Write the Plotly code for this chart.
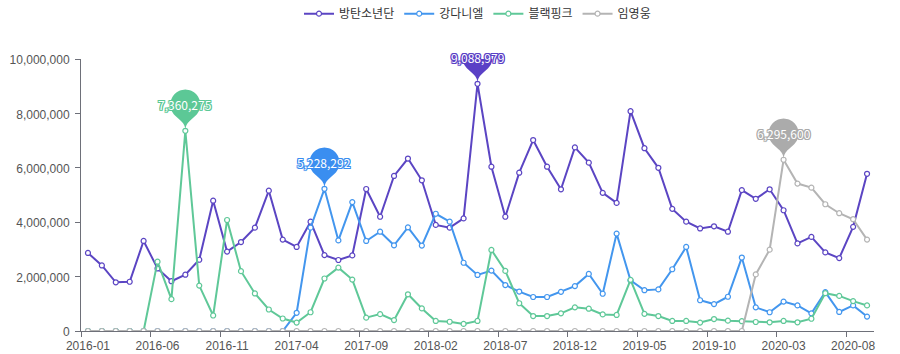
import math
import plotly.graph_objects as go

months = [f"{y}-{m:02d}" for y in range(2016, 2021) for m in range(1, 13)][:57]

series_names = ["방탄소년단", "강다니엘", "블랙핑크", "임영웅"]

bts = [2870000, 2410000, 1790000, 1810000, 3310000, 2300000, 1830000, 2070000, 2620000, 4790000,
       2920000, 3270000, 3800000, 5160000, 3360000, 3090000, 4020000, 2790000, 2610000, 2780000,
       5220000, 4200000, 5700000, 6340000, 5540000, 3900000, 3800000, 4140000, 9088979, 6040000,
       4200000, 5820000, 7020000, 6040000, 5210000, 6750000, 6190000, 5080000, 4710000, 8080000,
       6720000, 6000000, 4490000, 4020000, 3770000, 3850000, 3650000, 5180000, 4860000, 5210000,
       4440000, 3220000, 3460000, 2890000, 2680000, 3830000, 5780000]

kang = [0, 0, 0, 0, 0, 0, 0, 0, 0, 0,
        0, 0, 0, 0, 0, 670000, 3800000, 5228292, 3330000, 4740000,
        3310000, 3650000, 3150000, 3810000, 3140000, 4310000, 4020000, 2510000, 2060000, 2220000,
        1690000, 1450000, 1250000, 1250000, 1440000, 1650000, 2100000, 1370000, 3580000, 1860000,
        1500000, 1530000, 2270000, 3090000, 1130000, 990000, 1260000, 2700000, 870000, 690000,
        1080000, 940000, 650000, 1430000, 700000, 940000, 530000]

blackpink = [0, 0, 0, 0, 0, 2550000, 1170000, 7360275, 1670000, 570000,
             4080000, 2200000, 1380000, 790000, 460000, 310000, 690000, 1930000, 2330000, 1890000,
             490000, 620000, 400000, 1350000, 830000, 370000, 340000, 260000, 370000, 2980000,
             2210000, 1020000, 550000, 550000, 650000, 870000, 820000, 610000, 590000, 1880000,
             630000, 550000, 370000, 370000, 310000, 440000, 380000, 360000, 330000, 320000,
             370000, 320000, 450000, 1390000, 1290000, 1100000, 940000]

lim = [0] * 48 + [2080000, 2990000, 6295600, 5420000, 5270000, 4660000, 4330000, 4110000, 3360000]

all_series = [bts, kang, blackpink, lim]
colors = ["#5b45c3", "#4396ee", "#5fc898", "#b4b4b4"]
pin_colors = ["#5a40c6", "#3a8ef0", "#5cc896", "#ababab"]

FONT = "Noto Sans CJK KR, Noto Sans, sans-serif"
TICKFONT = "Liberation Sans, Arial, sans-serif"


def pin_path(w=30.0, h=48.0, n_arc=40, n_bez=16):
    r = w / 2
    dy = r * r / (h - r)
    c = h - r - dy
    ang = math.asin(dy / r)
    dx = math.cos(ang) * r
    tx, ty = math.sin(ang), math.cos(ang)
    cp1, cp2 = r * 0.6, r * 0.7
    pts = []
    t0, t1 = math.pi + ang, -ang
    for k in range(n_arc + 1):
        t = t0 + (t1 - t0) * k / n_arc
        pts.append((r * math.cos(t), c + r * math.sin(t)))

    def bez(p0, p1, p2, p3):
        out = []
        for k in range(1, n_bez + 1):
            s = k / n_bez
            a = (1 - s) ** 3
            b = 3 * (1 - s) ** 2 * s
            cc = 3 * (1 - s) * s ** 2
            d = s ** 3
            out.append((a * p0[0] + b * p1[0] + cc * p2[0] + d * p3[0],
                        a * p0[1] + b * p1[1] + cc * p2[1] + d * p3[1]))
        return out

    pts += bez((dx, c - dy), (dx - tx * cp1, c - dy - ty * cp1), (0, cp2), (0, 0))
    pts += bez((0, 0), (0, cp2), (-dx + tx * cp1, c - dy - ty * cp1), (-dx, c - dy))
    s = "M " + " L ".join(f"{x:.2f},{y:.2f}" for x, y in pts) + " Z"
    return s


fig = go.Figure()
for name, vals, col in zip(series_names, all_series, colors):
    fig.add_trace(go.Scatter(
        x=months, y=vals, name=name, mode="lines+markers",
        line=dict(color=col, width=2),
        marker=dict(symbol="circle", size=5, color="white", line=dict(color=col, width=1.2)),
        hoverinfo="skip",
    ))

PIN = pin_path()
shapes = []
annotations = []
for vals, pc in zip(all_series, pin_colors):
    mi = max(range(len(vals)), key=lambda k: vals[k])
    shapes.append(dict(type="path", xref="x", yref="y", xsizemode="pixel", ysizemode="pixel",
                       xanchor=months[mi], yanchor=vals[mi], path=PIN,
                       fillcolor=pc, line=dict(width=0), layer="above"))
    sh = ", ".join(f"{a}px {b}px 0 {pc}" for a, b in [(1, 0), (-1, 0), (0, 1), (0, -1), (1, 1), (-1, -1), (1, -1), (-1, 1)])
    annotations.append(dict(x=months[mi], y=vals[mi], xref="x", yref="y", text=f"{vals[mi]:,}",
                            showarrow=False, yshift=26,
                            font=dict(family=FONT, size=12, color="white", shadow=sh)))

fig.update_layout(
    width=900, height=354,
    margin=dict(l=81, r=26, t=59, b=23, autoexpand=False),
    paper_bgcolor="white", plot_bgcolor="white",
    font=dict(family=FONT, size=12, color="#555"),
    showlegend=True,
    legend=dict(orientation="h", x=0.5, xanchor="center", y=1.22, yanchor="top",
                font=dict(family=FONT, size=12, color="#333"), itemwidth=30,
                traceorder="normal", bgcolor="rgba(0,0,0,0)"),
    shapes=shapes,
    annotations=annotations,
)
fig.update_xaxes(type="category", range=[-0.5, 56.5], tickson="boundaries", dtick=5,
                 tickangle=0, automargin=False, ticklabelstandoff=4,
                 showgrid=False, zeroline=False, showline=True, linecolor="#6E7079", linewidth=1,
                 ticks="outside", ticklen=5, tickcolor="#6E7079",
                 tickfont=dict(family=TICKFONT, size=12, color="#555"))
fig.update_yaxes(range=[0, 10000000], dtick=2000000, tickformat=",d", showgrid=False, zeroline=False,
                 automargin=False, ticklabelstandoff=3, ticklabelshift=1,
                 showline=True, linecolor="#6E7079", linewidth=1, ticks="outside", ticklen=5,
                 tickcolor="#6E7079", tickfont=dict(family=TICKFONT, size=12, color="#555"))

fig.write_html("out.html")
